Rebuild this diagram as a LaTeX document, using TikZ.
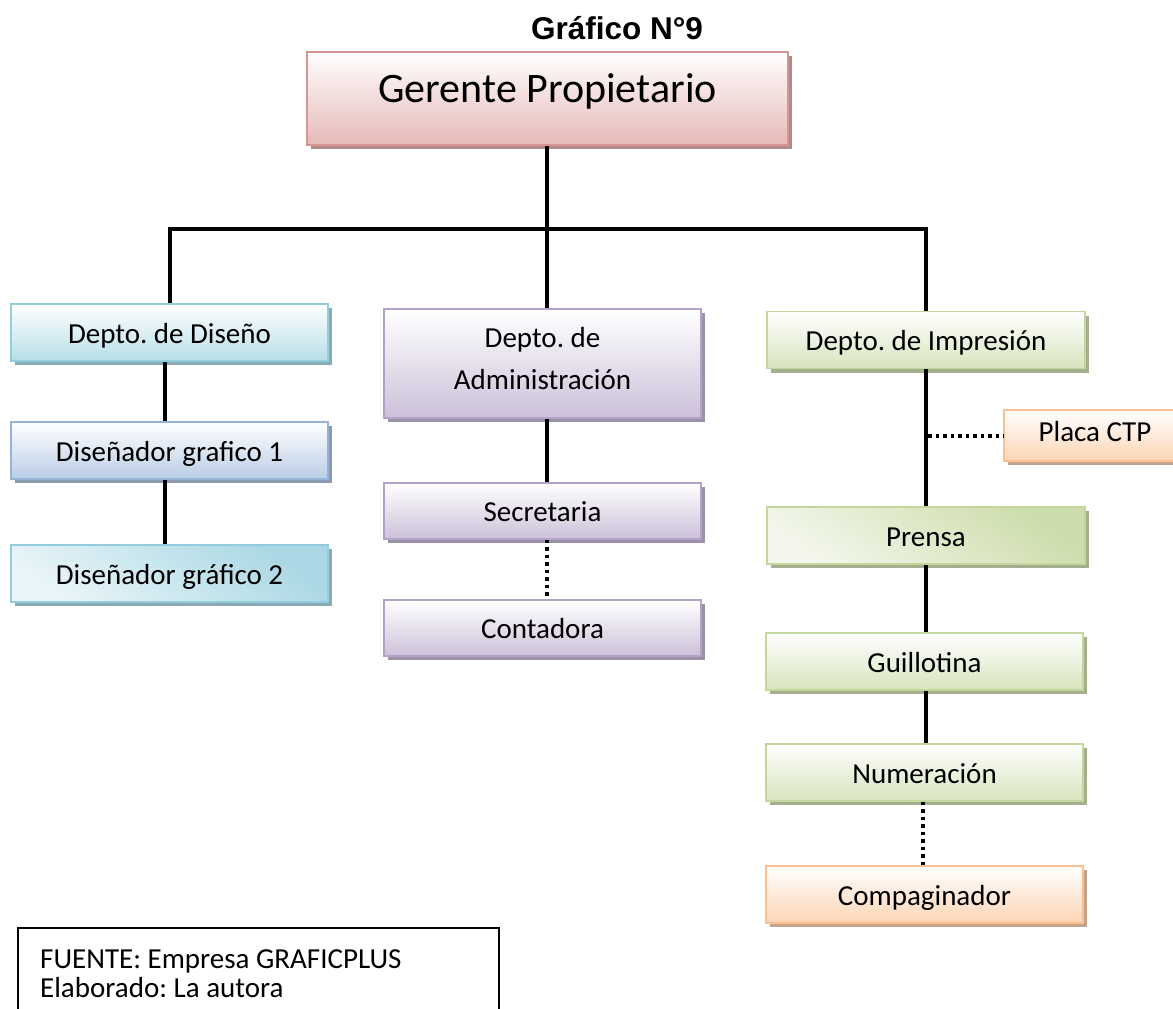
\documentclass[tikz,border=0pt]{standalone}
\usepackage{fontspec}
\setmainfont{Carlito}
\newfontfamily\titlefont{Liberation Sans}
\usetikzlibrary{shadows,calc}
\frenchspacing
\definecolor{pinkB}{HTML}{D99594}
\definecolor{pinkF}{HTML}{E5B9B7}
\definecolor{blueB}{HTML}{93CDDD}
\definecolor{blueF}{HTML}{B7DEE8}
\definecolor{steelB}{HTML}{95B3D7}
\definecolor{steelF}{HTML}{B9CDE5}
\definecolor{lilacB}{HTML}{B3A2C7}
\definecolor{lilacF}{HTML}{CCC1DA}
\definecolor{greenB}{HTML}{C3D69B}
\definecolor{greenF}{HTML}{D7E4BD}
\definecolor{orangeB}{HTML}{FAC090}
\definecolor{orangeF}{HTML}{FCD5B5}
\tikzset{
  orgbox/.style 2 args={draw=#1, line width=1.6pt, top color=white, bottom color=#2,
    drop shadow={shadow xshift=4pt, shadow yshift=-4pt, fill=#1!55!gray, opacity=1},
    minimum width=317pt, minimum height=57pt, inner sep=0pt,
    font=\fontsize{29}{35}\selectfont\frenchspacing, text height=26pt, text depth=5pt},
  diagshade/.style 2 args={top color=#1, bottom color=#2, shading angle=-35},
  link/.style={line width=4pt, black},
  dotlink/.style={line width=4pt, black, dash pattern=on 3.5pt off 4pt},
}
\begin{document}
\begin{tikzpicture}[x=1pt,y=-1pt]
\useasboundingbox (0,0) rectangle (1173,1009);
\clip (0,0) rectangle (1173,1009);
\fill[white] (0,0) rectangle (1173,1009);

% title
\node[font=\titlefont\bfseries\fontsize{31.5}{36}\selectfont, anchor=base, inner sep=0pt] (title) at (617,39) {Gráfico N°9};

% boxes
\node[orgbox={pinkB}{pinkF}, minimum width=481pt, minimum height=93pt, line width=2pt,
      font=\fontsize{42}{50}\selectfont, text height=30pt, text depth=23pt] (ger) at (547.5,98.5) {Gerente Propietario};

\node[orgbox={blueB}{blueF}] (dis) at (169.5,332.5) {Depto. de Diseño};
\node[orgbox={steelB}{steelF}] (ds1) at (169.5,450.5) {Diseñador grafico 1};
\node[orgbox={blueB}{blueF}, diagshade={blueB!80}{blueF!30}] (ds2) at (169.5,573.5) {Diseñador gráfico 2};

\node[orgbox={lilacB}{lilacF}, minimum height=109pt, font=\fontsize{29}{42}\selectfont\frenchspacing,
      text height=56pt, text depth=5pt] (adm) at (542.5,363.5)
      {\begin{tabular}[b]{@{}c@{}}Depto. de\\Administración\end{tabular}};
\node[orgbox={lilacB}{lilacF}, minimum height=56pt] (sec) at (542.5,511) {Secretaria};
\node[orgbox={lilacB}{lilacF}, minimum height=56pt] (con) at (542.5,628) {Contadora};

\node[orgbox={greenB}{greenF}, minimum width=318pt] (imp) at (926,340) {Depto. de Impresión};
\node[orgbox={orangeB}{orangeF}, minimum width=182pt, minimum height=51pt,
      text height=22pt, text depth=11pt] (pla) at (1095,435.5) {Placa CTP};
\node[orgbox={greenB}{greenF}, minimum width=318pt, diagshade={greenB!85}{greenF!30}] (pre) at (926,535.5) {Prensa};
\node[orgbox={greenB}{greenF}] (gui) at (924.5,661.5) {Guillotina};
\node[orgbox={greenB}{greenF}] (num) at (924.5,772.5) {Numeración};
\node[orgbox={orangeB}{orangeF}] (com) at (924.5,894.5) {Compaginador};

% connectors
\coordinate (bus) at (547,229);
\draw[link] (ger.south -| bus) -- (bus);
\draw[link] (dis.north) -- (dis.north |- bus) -- (imp.north |- bus) -- (imp.north);
\draw[link] (bus) -- (bus |- adm.north);
\draw[link] ([xshift=-5pt]dis.south) -- ([xshift=-5pt]ds1.north);
\draw[link] ([xshift=-5pt]ds1.south) -- ([xshift=-5pt]ds2.north);
\draw[link] ([xshift=4.5pt]adm.south) -- ([xshift=4.5pt]sec.north);
\draw[dotlink] ([xshift=4.5pt]sec.south) -- ([xshift=4.5pt]con.north);
\draw[link] (imp.south) -- (pre.north);
\draw[dotlink] ([xshift=2pt]pla.west -| imp.south) -- (pla.west);
\draw[link] (pre.south) -- (pre.south |- gui.north);
\draw[link] ([xshift=1pt]gui.south) -- ([xshift=1pt]num.north);
\draw[dotlink] ([xshift=-1.5pt]num.south) -- ([xshift=-1.5pt]com.north);

% footer
\draw[line width=1.3pt] (18,928) rectangle (499,1040);
\node[anchor=base west, inner sep=0pt, font=\fontsize{29}{29}\selectfont\frenchspacing] (foot) at (40,968)
  {\begin{tabular}[t]{@{}l@{}}FUENTE: Empresa GRAFICPLUS\\Elaborado: La autora\end{tabular}};
\end{tikzpicture}
\end{document}
